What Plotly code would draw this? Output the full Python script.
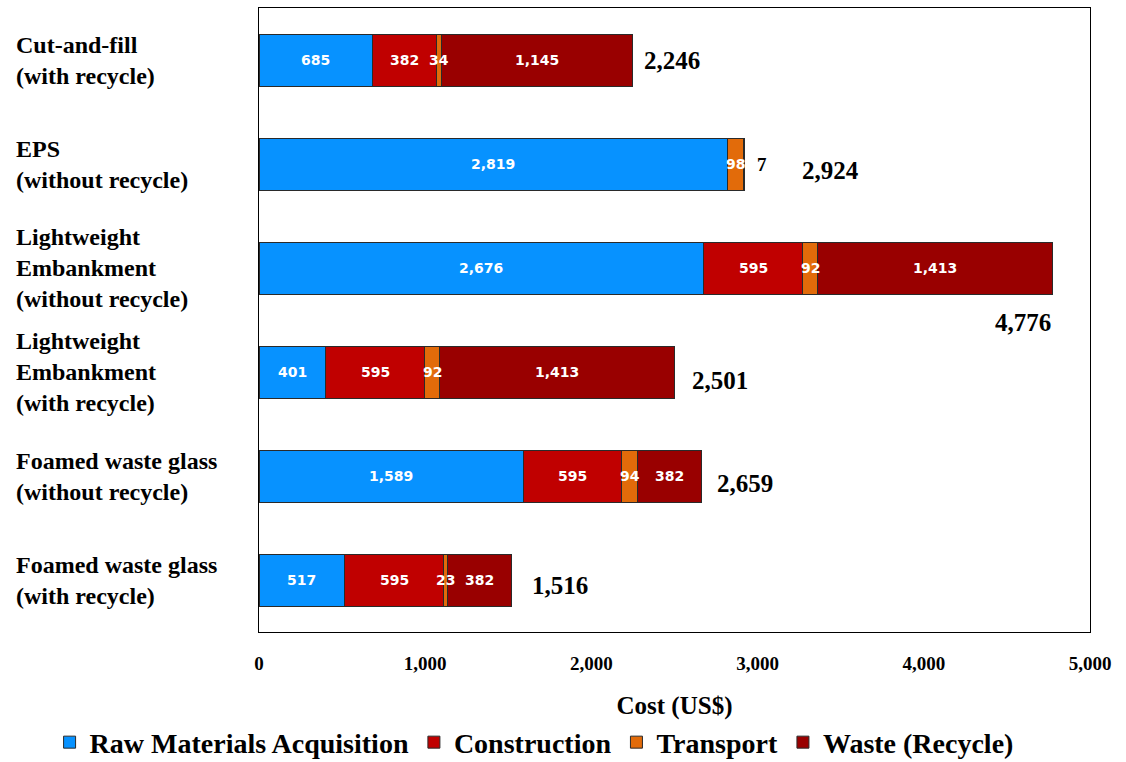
import plotly.graph_objects as go

categories = [
    "Cut-and-fill<br>(with recycle)",
    "EPS<br>(without recycle)",
    "Lightweight<br>Embankment<br>(without recycle)",
    "Lightweight<br>Embankment<br>(with recycle)",
    "Foamed waste glass<br>(without recycle)",
    "Foamed waste glass<br>(with recycle)",
]
raw_materials = [685, 2819, 2676, 401, 1589, 517]
construction = [382, 0, 595, 595, 595, 595]
transport = [34, 98, 92, 92, 94, 23]
waste = [1145, 7, 1413, 1413, 382, 382]
totals = [2246, 2924, 4776, 2501, 2659, 1516]

series_names = ["Raw Materials Acquisition", "Construction", "Transport", "Waste (Recycle)"]
series_values = [raw_materials, construction, transport, waste]
series_colors = ["#0792FF", "#C00000", "#E26B0A", "#990000"]

# styling for total labels (pixel shifts)
total_dx = [10, 55, 0, 15, 14, 19]
total_dy = [0, -6, -54, -8, -7, -5]

SERIF = "Liberation Serif"

fig = go.Figure()
for name, vals, col in zip(series_names, series_values, series_colors):
    fig.add_trace(go.Bar(
        y=categories, x=vals, name=name, orientation="h",
        marker=dict(color=col, line=dict(color="#2a2a2a", width=1)),
        width=0.5,
    ))

annotations = []
# segment labels
for i, cat in enumerate(categories):
    start = 0
    for vals in series_values:
        v = vals[i]
        if v > 0:
            if v >= 20:
                annotations.append(dict(
                    x=start + v / 2, y=cat, xref="x", yref="y", text=f"{v:,}",
                    showarrow=False, font=dict(family="DejaVu Sans", size=14, color="white", weight="bold"),
                ))
            else:
                annotations.append(dict(
                    x=totals[i], y=cat, xref="x", yref="y", text=f"{v:,}",
                    showarrow=False, xanchor="left", xshift=10,
                    font=dict(family=SERIF, size=19, color="black", weight="bold"),
                ))
        start += v

# total labels
for i, cat in enumerate(categories):
    if total_dy[i] < -30:
        annotations.append(dict(
            x=totals[i], y=cat, xref="x", yref="y", text=f"{totals[i]:,}",
            showarrow=False, xanchor="right", yshift=total_dy[i],
            font=dict(family=SERIF, size=25, color="black", weight="bold"),
        ))
    else:
        annotations.append(dict(
            x=totals[i], y=cat, xref="x", yref="y", text=f"{totals[i]:,}",
            showarrow=False, xanchor="left", xshift=total_dx[i], yshift=total_dy[i],
            font=dict(family=SERIF, size=25, color="black", weight="bold"),
        ))

# category labels (left-aligned)
for cat in categories:
    annotations.append(dict(
        x=-0.2948, y=cat, xref="paper", yref="y", text=cat,
        showarrow=False, xanchor="left", align="left",
        font=dict(family=SERIF, size=24, color="black", weight="bold"),
    ))

fig.update_layout(
    width=1126, height=762,
    margin=dict(l=259, r=36, t=8, b=130, autoexpand=False),
    barmode="stack",
    plot_bgcolor="white", paper_bgcolor="white",
    annotations=annotations,
    legend=dict(
        orientation="h", x=-0.252, xanchor="left", y=-0.177, yanchor="middle",
        font=dict(family=SERIF, size=28, color="black", weight="bold"),
        itemwidth=30, tracegroupgap=0, traceorder="normal",
    ),
    xaxis=dict(
        range=[0, 5000], tickvals=[0, 1000, 2000, 3000, 4000, 5000],
        tickformat=",d", showgrid=False, zeroline=False,
        showline=True, linecolor="black", linewidth=1, mirror=True,
        ticks="", ticklabelstandoff=14,
        tickfont=dict(family=SERIF, size=19, color="black", weight="bold"),
        title=dict(text="Cost (US$)", standoff=23,
                   font=dict(family=SERIF, size=25, color="black", weight="bold")),
    ),
    yaxis=dict(
        autorange="reversed", showticklabels=False, ticks="", showgrid=False,
        showline=True, linecolor="black", linewidth=1, mirror=True,
    ),
)

fig.write_html("out.html")
